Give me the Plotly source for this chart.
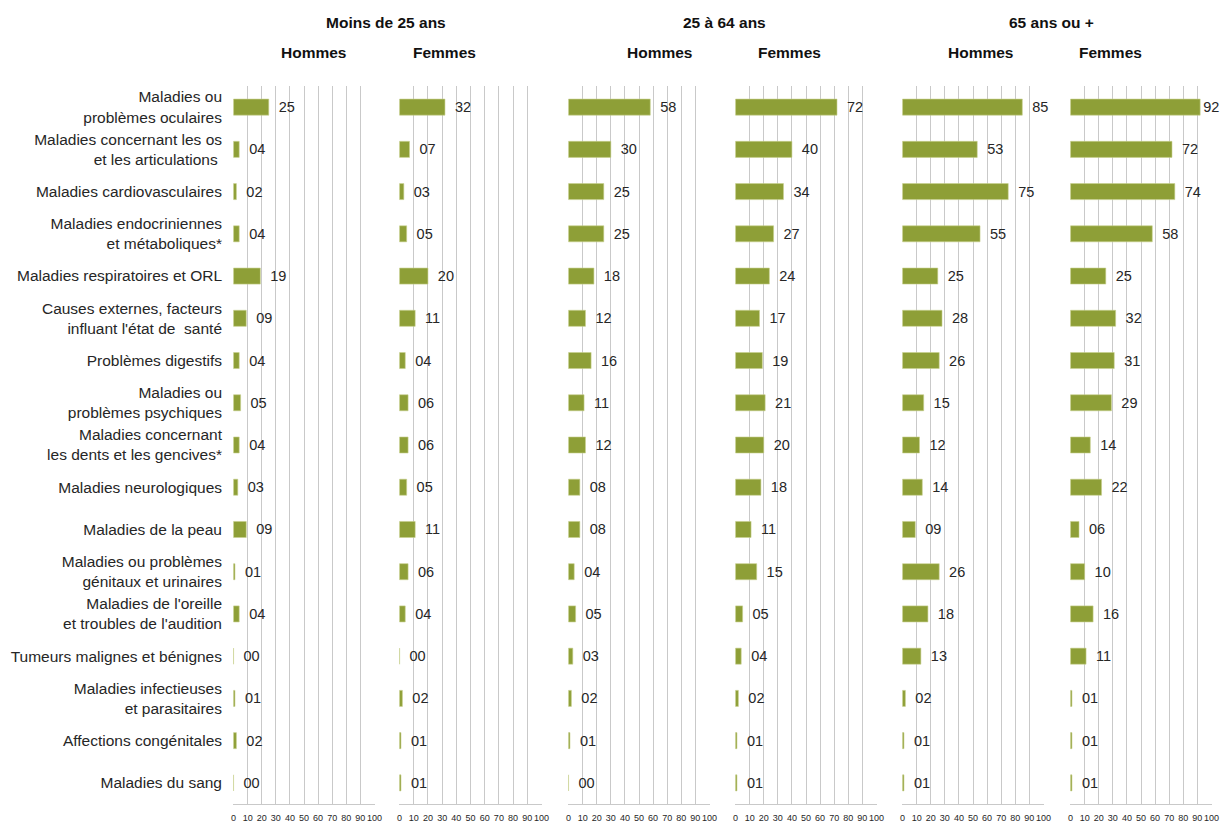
import plotly.graph_objects as go

# categories, top to bottom
categories = [
    "Maladies ou<br>problèmes oculaires",
    "Maladies concernant les os<br>et les articulations ",
    "Maladies cardiovasculaires",
    "Maladies endocriniennes<br>et métaboliques*",
    "Maladies respiratoires et ORL",
    "Causes externes, facteurs<br>influant l'état de  santé",
    "Problèmes digestifs",
    "Maladies ou<br>problèmes psychiques",
    "Maladies concernant<br>les dents et les gencives*",
    "Maladies neurologiques",
    "Maladies de la peau",
    "Maladies ou problèmes<br>génitaux et urinaires",
    "Maladies de l'oreille<br>et troubles de l'audition",
    "Tumeurs malignes et bénignes",
    "Maladies infectieuses<br>et parasitaires",
    "Affections congénitales",
    "Maladies du sang",
]

age_groups = ["Moins de 25 ans", "25 à 64 ans", "65 ans ou +"]
sexes = ["Hommes", "Femmes"]

hommes_moins25 = [25, 4, 2, 4, 19, 9, 4, 5, 4, 3, 9, 1, 4, 0, 1, 2, 0]
femmes_moins25 = [32, 7, 3, 5, 20, 11, 4, 6, 6, 5, 11, 6, 4, 0, 2, 1, 1]
hommes_25_64 = [58, 30, 25, 25, 18, 12, 16, 11, 12, 8, 8, 4, 5, 3, 2, 1, 0]
femmes_25_64 = [72, 40, 34, 27, 24, 17, 19, 21, 20, 18, 11, 15, 5, 4, 2, 1, 1]
hommes_65plus = [85, 53, 75, 55, 25, 28, 26, 15, 12, 14, 9, 26, 18, 13, 2, 1, 1]
femmes_65plus = [92, 72, 74, 58, 25, 32, 31, 29, 14, 22, 6, 10, 16, 11, 1, 1, 1]

series = [hommes_moins25, femmes_moins25, hommes_25_64,
          femmes_25_64, hommes_65plus, femmes_65plus]

# the page puts the figure 8px in from the top-left corner (body margin)
OFF = 8
W, H = 1229 - OFF, 825 - OFF
ML, MT = 233 - OFF, 86 - OFF
MR = W - (1212 - OFF)
MB = H - (804 - OFF)
panels_px = [(233, 375), (399, 542), (568, 710), (735, 877), (902, 1044), (1070, 1212)]


def px_x(p):
    return (p - OFF - ML) / (W - ML - MR)


def px_y(p):
    return 1 - (p - OFF - MT) / (H - MT - MB)


def label(v):
    # small gap after the bar end; near the right edge keep it tight
    return ('%02d' % v) if v >= 90 else (' \u2009%02d' % v)


bar_color = '#8E9F37'
grid_color = '#C9C9C9'
font_fam = 'Liberation Sans, Arial, sans-serif'

fig = go.Figure()

for i, vals in enumerate(series):
    ax = '' if i == 0 else str(i + 1)
    fig.add_trace(go.Bar(
        x=vals,
        y=categories,
        orientation='h',
        xaxis='x' + ax,
        yaxis='y',
        width=0.38,
        marker=dict(color=bar_color, line=dict(color='#C8D08F', width=0.6)),
        text=[label(v) for v in vals],
        textposition='outside',
        cliponaxis=False,
        textfont=dict(size=14.5, color='#262626', family=font_fam),
        showlegend=False,
        hoverinfo='x+y',
    ))

layout = dict(
    width=W, height=H,
    autosize=False,
    margin=dict(l=ML, r=MR, t=MT, b=MB),
    paper_bgcolor='white',
    plot_bgcolor='white',
    font=dict(family=font_fam, color='#262626'),
    yaxis=dict(
        categoryorder='array',
        categoryarray=categories,
        autorange='reversed',
        automargin=False,
        showgrid=False,
        zeroline=False,
        showline=False,
        ticks='',
        ticklabelstandoff=10,
        tickfont=dict(size=15.5, color='#262626', family=font_fam),
        anchor='x',
        domain=[0, 1],
    ),
)

for i, (a, b) in enumerate(panels_px):
    key = 'xaxis' if i == 0 else 'xaxis%d' % (i + 1)
    layout[key] = dict(
        domain=[px_x(a), px_x(b)],
        range=[-0.4, 100.4],
        automargin=False,
        tickmode='linear',
        tick0=0,
        dtick=10,
        tickangle=0,
        showgrid=True,
        gridcolor=grid_color,
        gridwidth=1,
        zeroline=False,
        showline=True,
        linecolor=grid_color,
        linewidth=1,
        ticks='',
        ticklabelstandoff=5,
        tickfont=dict(size=9, color='#262626', family=font_fam),
        anchor='y',
        fixedrange=True,
    )

fig.update_layout(**layout)

# group headers
header_x = [386, 724, 1051]
for name, cx in zip(age_groups, header_x):
    fig.add_annotation(
        x=px_x(cx), y=px_y(22), xref='paper', yref='paper',
        text='<b>%s</b>' % name, showarrow=False,
        font=dict(size=15.5, color='#111', family=font_fam),
        xanchor='center', yanchor='middle',
    )

sex_x = [313, 444, 659, 789, 980, 1110]
for j, cx in enumerate(sex_x):
    fig.add_annotation(
        x=px_x(cx), y=px_y(52), xref='paper', yref='paper',
        text='<b>%s</b>' % sexes[j % 2], showarrow=False,
        font=dict(size=15.5, color='#111', family=font_fam),
        xanchor='center', yanchor='middle',
    )

fig.write_html("out.html")
